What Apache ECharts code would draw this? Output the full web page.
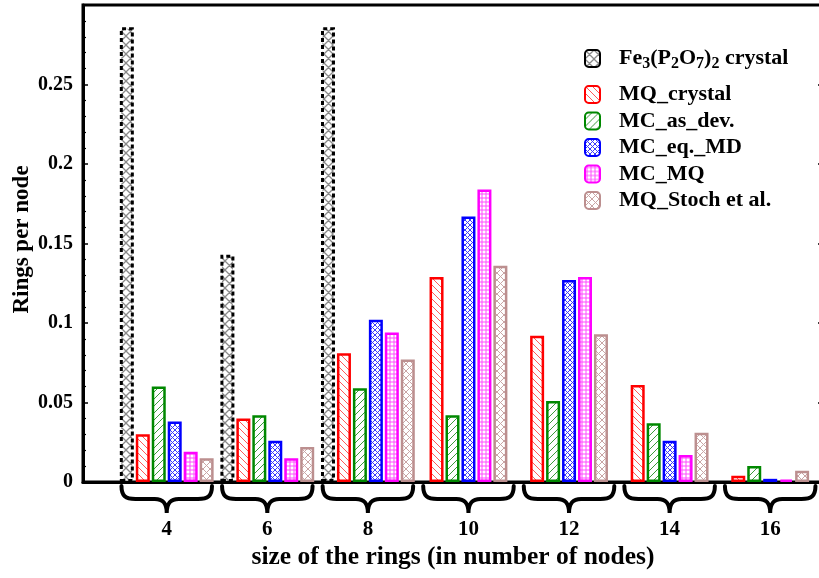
<!DOCTYPE html>
<html><head><meta charset="utf-8">
<script src="https://cdn.jsdelivr.net/npm/echarts@6/dist/echarts.min.js"></script>
<style>html,body{margin:0;padding:0;background:#fff}#c{width:819px;height:578px}</style>
</head><body><div id="c"></div>
<script>
// ---- data ----
const ringSizes = [4, 6, 8, 10, 12, 14, 16];
const xTickLabels = ['4', '6', '8', '10', '12', '14', '16'];
const seriesNames = ['Fe3(P2O7)2 crystal', 'MQ_crystal', 'MC_as_dev.', 'MC_eq._MD', 'MC_MQ', 'MQ_Stoch et al.'];
const feCrystal = [0.286, 0.143, 0.286, null, null, null, null];
const mqCrystal = [0.030, 0.040, 0.081, 0.129, 0.092, 0.061, 0.004];
const mcAsDev   = [0.060, 0.042, 0.059, 0.042, 0.051, 0.037, 0.010];
const mcEqMD    = [0.038, 0.026, 0.102, 0.167, 0.127, 0.026, 0.002];
const mcMQ      = [0.019, 0.015, 0.094, 0.184, 0.129, 0.017, 0.0015];
const mqStoch   = [0.015, 0.022, 0.077, 0.136, 0.093, 0.031, 0.007];
const yTickLabels = ['0', '0.05', '0.1', '0.15', '0.2', '0.25'];

// ---- styles ----
const FONT = 'Liberation Serif';
function pattern(size, color, draw, lw) {
  const c = document.createElement('canvas'); c.width = c.height = size;
  const g = c.getContext('2d'); g.fillStyle = '#fff'; g.fillRect(0, 0, size, size);
  g.strokeStyle = color; g.lineWidth = lw || 1; g.beginPath(); draw(g, size); g.stroke();
  return { image: c, repeat: 'repeat' };
}
const back = (g, s) => { for (const o of [-s, 0, s]) { g.moveTo(o, 0); g.lineTo(o + s, s); } };
const fwd = (g, s) => { for (const o of [-s, 0, s]) { g.moveTo(o, s); g.lineTo(o + s, 0); } };
const cross = (g, s) => { back(g, s); fwd(g, s); };
const grid = (g, s) => { g.moveTo(0, s / 2); g.lineTo(s, s / 2); g.moveTo(s / 2, 0); g.lineTo(s / 2, s); };

const styles = [
  { fill: pattern(9, '#8a8a8a', cross, 1.3), border: '#000', dash: [4, 3], bw: 3 },
  { fill: pattern(7, '#ff5a5a', back), border: '#ff0000' },
  { fill: pattern(7, '#3c9a3c', fwd), border: '#008800' },
  { fill: pattern(5, '#3a3aff', cross), border: '#0000ff' },
  { fill: pattern(4, '#ff4dff', grid), border: '#ff00ff' },
  { fill: pattern(7, '#c9a5a5', cross), border: '#bc8f8f' }
];
const allValues = [feCrystal, mqCrystal, mcAsDev, mcEqMD, mcMQ, mqStoch];

// groups that contain the crystal reference (6 bars) and the rest (5 bars, centred)
const firstIdx = ringSizes.map((x, i) => i).filter(i => feCrystal[i] != null);
const restIdx = ringSizes.map((x, i) => i).filter(i => feCrystal[i] == null);

function makeBar(k, idx, axisIndex) {
  return {
    type: 'bar', name: seriesNames[k], xAxisIndex: axisIndex,
    data: idx.map(i => [ringSizes[i], allValues[k][i]]),
    barWidth: 14, barGap: '14%',
    itemStyle: {
      color: styles[k].fill, borderColor: styles[k].border, borderWidth: styles[k].bw || 2.5,
      borderType: styles[k].dash || 'solid'
    },
    emphasis: { disabled: true }
  };
}
const barSeries = [];
for (let k = 0; k < 6; k++) barSeries.push(makeBar(k, firstIdx, 0));
for (let k = 1; k < 6; k++) barSeries.push(makeBar(k, restIdx, 1));

const braceSeries = {
  type: 'custom', name: 'braces', clip: false, silent: true, z: 5, xAxisIndex: 0,
  data: ringSizes.map(x => [x, 0]), encode: { x: 0, y: 1 },
  renderItem: (params, api) => {
    const x = api.value(0);
    const c = api.coord([x, 0]);
    const L = api.coord([x - 0.9, 0])[0], R = api.coord([x + 0.9, 0])[0];
    const cx = c[0], top = c[1] + 4, mid = c[1] + 17, tip = c[1] + 31;
    const d = `M${L},${top} C${L},${top + 10} ${L + 4},${mid} ${L + 14},${mid} L${cx - 12},${mid} ` +
      `C${cx - 4},${mid} ${cx},${mid + 4} ${cx},${tip} C${cx},${mid + 4} ${cx + 4},${mid} ${cx + 12},${mid} ` +
      `L${R - 14},${mid} C${R - 4},${mid} ${R},${top + 10} ${R},${top}`;
    return {
      type: 'group', children: [
        { type: 'path', shape: { pathData: d }, style: { stroke: '#000', lineWidth: 4, fill: null, lineCap: 'round' } },
        { type: 'text', style: { text: xTickLabels[params.dataIndex], x: cx, y: c[1] + 48, align: 'center', verticalAlign: 'middle',
          font: `bold 21px "${FONT}"`, fill: '#000' } }
      ]
    };
  }
};

const xBase = { type: 'value', min: 2.335, max: 17.05 };
const chart = echarts.init(document.getElementById('c'), null, { renderer: 'canvas' });
chart.setOption({
  animation: false,
  backgroundColor: '#fff',
  grid: { left: 83, right: -4, top: 5, bottom: 96, show: true, borderColor: '#000', borderWidth: 3,
          containLabel: false, outerBoundsMode: 'none' },
  legend: {
    data: seriesNames, orient: 'vertical', left: 584, top: 38, padding: 0,
    itemWidth: 15, itemHeight: 17, itemGap: 4.5, selectedMode: false,
    textStyle: {
      fontFamily: FONT, fontWeight: 'bold', fontSize: 22, color: '#000', padding: [0, 0, 0, 14],
      rich: {
        sub: { fontFamily: FONT, fontWeight: 'bold', fontSize: 16, color: '#000', padding: [11, 0, 0, 0] },
        pad: { fontSize: 1, height: 41, lineHeight: 41 }
      }
    },
    formatter: n => n === seriesNames[0] ? 'Fe{sub|3}(P{sub|2}O{sub|7}){sub|2} crystal{pad| }' : n
  },
  xAxis: [{
    ...xBase,
    axisLine: { show: true, onZero: false, lineStyle: { color: '#000', width: 3 } },
    axisTick: { show: false }, axisLabel: { show: false }, splitLine: { show: false },
    name: 'size of the rings (in number of nodes)', nameLocation: 'middle', nameGap: 62,
    nameMoveOverlap: false,
    nameTextStyle: { fontFamily: FONT, fontWeight: 'bold', fontSize: 25.5, color: '#000' }
  }, {
    ...xBase, show: false
  }],
  yAxis: [{
    type: 'value', min: 0, max: 0.3, interval: 0.05,
    axisLine: { show: true, lineStyle: { color: '#000', width: 3 } },
    axisTick: { show: true, inside: true, length: 5, lineStyle: { color: '#000', width: 1.5 } },
    minorTick: { show: true, splitNumber: 5, length: 3, lineStyle: { color: '#000', width: 1.2 } },
    splitLine: { show: false },
    axisLabel: {
      fontFamily: FONT, fontWeight: 'bold', fontSize: 20, color: '#000', margin: 10,
      formatter: v => { const i = Math.round(v / 0.05); return i < yTickLabels.length ? yTickLabels[i] : ''; }
    },
    name: 'Rings per node', nameLocation: 'middle', nameGap: 49, nameMoveOverlap: false,
    nameTextStyle: { fontFamily: FONT, fontWeight: 'bold', fontSize: 23, color: '#000', padding: [0, 0, 0, 8] }
  }, {
    type: 'value', min: 0, max: 0.3, interval: 0.05, position: 'right',
    axisLine: { show: true, lineStyle: { color: '#000', width: 3 } },
    axisTick: { show: true, inside: true, length: 5, lineStyle: { color: '#000', width: 1.5 } },
    minorTick: { show: true, splitNumber: 5, length: 3, lineStyle: { color: '#000', width: 1.2 } },
    splitLine: { show: false }, axisLabel: { show: false }
  }],
  series: [...barSeries, braceSeries]
});
</script></body></html>
